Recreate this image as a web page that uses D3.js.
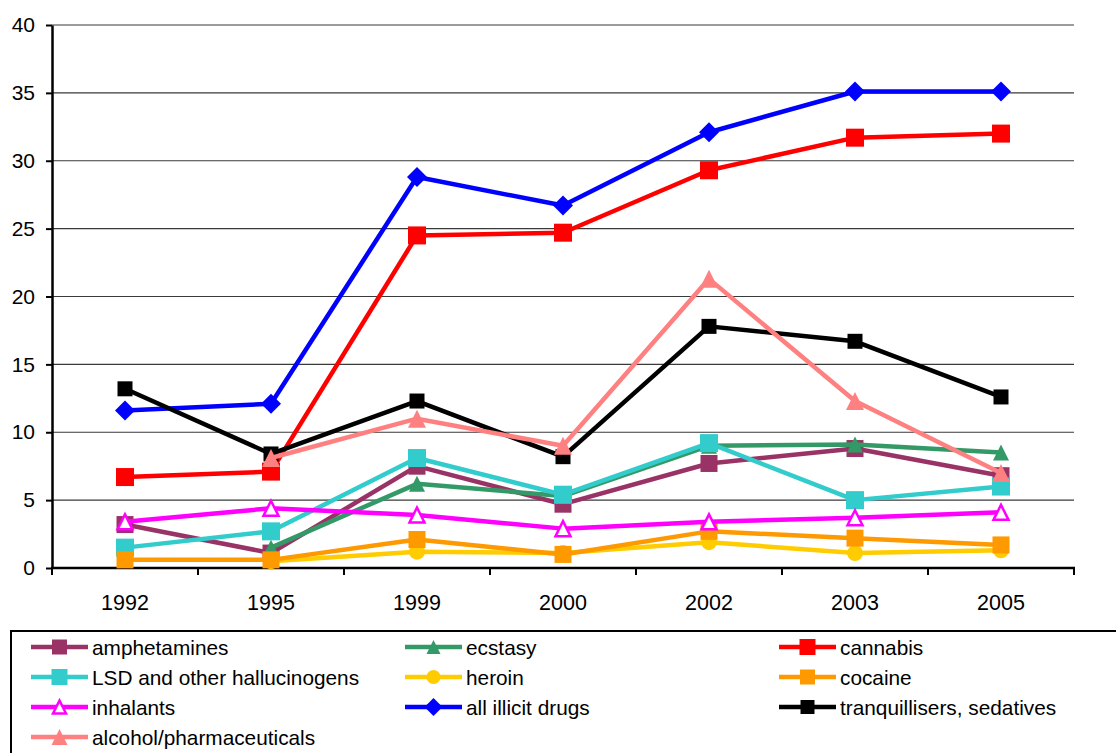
<!DOCTYPE html>
<html>
<head>
<meta charset="utf-8">
<script src="https://cdn.jsdelivr.net/npm/d3@7"></script>
<style>
  html, body { margin: 0; padding: 0; background: #fff; }
  svg { display: block; font-family: "Liberation Sans", Arial, sans-serif; }
</style>
</head>
<body>
<svg id="chart" width="1116" height="753"></svg>
<script>
// ---- data ----
const years = ["1992", "1995", "1999", "2000", "2002", "2003", "2005"];
const yTicks = [0, 5, 10, 15, 20, 25, 30, 35, 40];

const amphetamines = [3.2, 1.1, 7.5, 4.7, 7.7, 8.8, 6.8];
const ecstasy      = [null, 1.5, 6.2, 5.3, 9.0, 9.1, 8.5];
const cannabis     = [6.7, 7.1, 24.5, 24.7, 29.3, 31.7, 32.0];
const lsd          = [1.5, 2.7, 8.1, 5.4, 9.2, 5.0, 6.0];
const heroin       = [null, 0.5, 1.2, 1.1, 1.9, 1.1, 1.3];
const cocaine      = [0.6, 0.6, 2.1, 1.0, 2.7, 2.2, 1.7];
const inhalants    = [3.4, 4.4, 3.9, 2.9, 3.4, 3.7, 4.1];
const allIllicit   = [11.6, 12.1, 28.8, 26.7, 32.1, 35.1, 35.1];
const tranquillisers = [13.2, 8.4, 12.3, 8.2, 17.8, 16.7, 12.6];
const alcoholPharm = [null, 8.1, 11.0, 9.0, 21.3, 12.3, 7.0];

const seriesNames = ["amphetamines", "ecstasy", "cannabis", "LSD and other hallucinogens", "heroin",
  "cocaine", "inhalants", "all illicit drugs", "tranquillisers, sedatives", "alcohol/pharmaceuticals"];
const seriesValues = [amphetamines, ecstasy, cannabis, lsd, heroin, cocaine, inhalants, allIllicit, tranquillisers, alcoholPharm];

// ---- styles ----
const styles = [
  { color: "#993366", marker: "square", size: 17 },
  { color: "#339966", marker: "triangle", size: 16 },
  { color: "#FF0000", marker: "square", size: 18 },
  { color: "#33CCCC", marker: "square", size: 18 },
  { color: "#FFCC00", marker: "circle", size: 16 },
  { color: "#FF9900", marker: "square", size: 17 },
  { color: "#FF00FF", marker: "triangleOpen", size: 17 },
  { color: "#0000FF", marker: "diamond", size: 20 },
  { color: "#000000", marker: "square", size: 15 },
  { color: "#FF8080", marker: "triangle", size: 18 }
];

const svg = d3.select("#chart");
const margin = { left: 52, right: 1074, top: 25, bottom: 568 };

const x = d3.scaleBand().domain(years).range([margin.left, margin.right]).padding(0);
const y = d3.scaleLinear().domain([0, 40]).range([margin.bottom, margin.top]);
const cx = d => x(d) + x.bandwidth() / 2;

function markerPath(type, s) {
  const h = s / 2;
  if (type === "square") return `M${-h},${-h}H${h}V${h}H${-h}Z`;
  if (type === "diamond") return `M0,${-h}L${h},0L0,${h}L${-h},0Z`;
  if (type === "triangle" || type === "triangleOpen") return `M0,${-h}L${h},${h}L${-h},${h}Z`;
  if (type === "circle") return d3.symbol(d3.symbolCircle, Math.PI * h * h)();
  return "";
}

// gridlines
svg.append("g").selectAll("line").data(yTicks.filter(t => t > 0)).join("line")
  .attr("x1", margin.left).attr("x2", margin.right)
  .attr("y1", d => y(d)).attr("y2", d => y(d))
  .attr("stroke", "#3a3a3a").attr("stroke-width", 1.2);

// y axis
const yAxis = svg.append("g").attr("transform", `translate(${margin.left},0)`)
  .call(d3.axisLeft(y).tickValues(yTicks).tickSize(6).tickPadding(11).tickSizeOuter(0));
yAxis.select(".domain").attr("stroke", "#000").attr("stroke-width", 2.5);
yAxis.selectAll(".tick line").attr("stroke", "#000").attr("stroke-width", 2);
yAxis.selectAll(".tick text").attr("font-size", 21).attr("fill", "#000")
  .attr("font-family", "Liberation Sans, Arial, sans-serif");

// x axis
const xAxisG = svg.append("g");
xAxisG.append("line").attr("x1", margin.left - 1).attr("x2", margin.right + 1)
  .attr("y1", y(0)).attr("y2", y(0)).attr("stroke", "#000").attr("stroke-width", 2.5);
const bounds = years.map(d => x(d)).concat([x(years[years.length - 1]) + x.bandwidth()]);
xAxisG.selectAll("line.tk").data(bounds).join("line").attr("class", "tk")
  .attr("x1", d => d).attr("x2", d => d)
  .attr("y1", y(0)).attr("y2", y(0) + 7).attr("stroke", "#000").attr("stroke-width", 2);
xAxisG.selectAll("text").data(years).join("text")
  .attr("x", d => cx(d)).attr("y", 610)
  .attr("text-anchor", "middle").attr("font-size", 21.5).attr("fill", "#000")
  .text(d => d);

// series
const line = d3.line().defined(d => d.v != null).x(d => cx(d.year)).y(d => y(d.v));
seriesValues.forEach((vals, i) => {
  const st = styles[i];
  const pts = years.map((yr, j) => ({ year: yr, v: vals[j] }));
  const g = svg.append("g");
  g.append("path").datum(pts).attr("d", line)
    .attr("fill", "none").attr("stroke", st.color).attr("stroke-width", 4.5)
    .attr("stroke-linejoin", "round");
  g.selectAll("path.mk").data(pts.filter(p => p.v != null)).join("path").attr("class", "mk")
    .attr("transform", p => `translate(${cx(p.year)},${y(p.v)})`)
    .attr("d", markerPath(st.marker, st.marker === "triangleOpen" ? st.size - 2 : st.size))
    .attr("fill", st.marker === "triangleOpen" ? "#fff" : st.color)
    .attr("stroke", st.marker === "triangleOpen" ? st.color : "none")
    .attr("stroke-width", st.marker === "triangleOpen" ? 2.5 : 0);
});

// legend
const legend = svg.append("g");
legend.append("rect").attr("x", 11).attr("y", 631).attr("width", 1120).attr("height", 140)
  .attr("fill", "#fff").attr("stroke", "#000").attr("stroke-width", 2);
const colX = [31, 405, 779];
const rowY = [647, 677, 707, 737];
seriesNames.forEach((name, i) => {
  const st = styles[i];
  const lx = colX[i % 3], ly = rowY[Math.floor(i / 3)];
  const item = legend.append("g").attr("transform", `translate(${lx},${ly})`);
  item.append("line").attr("x1", 0).attr("x2", 57).attr("y1", 0).attr("y2", 0)
    .attr("stroke", st.color).attr("stroke-width", 4.5);
  const s = Math.round(st.size * 0.9);
  item.append("path").attr("transform", "translate(28.5,0)")
    .attr("d", markerPath(st.marker, st.marker === "triangleOpen" ? s - 2 : s))
    .attr("fill", st.marker === "triangleOpen" ? "#fff" : st.color)
    .attr("stroke", st.marker === "triangleOpen" ? st.color : "none")
    .attr("stroke-width", st.marker === "triangleOpen" ? 2.5 : 0);
  item.append("text").attr("x", 61).attr("y", 7.5).attr("font-size", 20.8).attr("fill", "#000")
    .text(name);
});
</script>
</body>
</html>
